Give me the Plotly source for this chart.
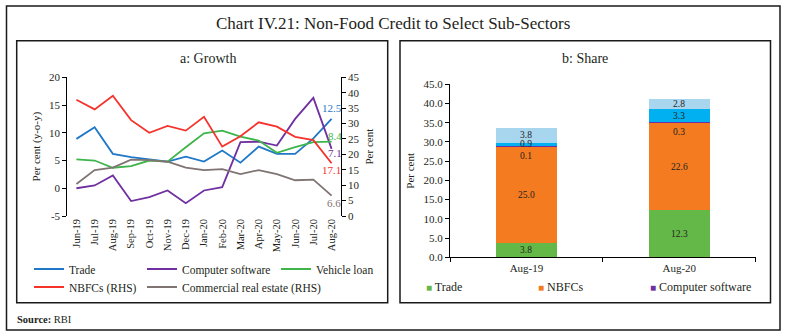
import plotly.graph_objects as go

# ---- data -------------------------------------------------------------
months = ["Jun-19", "Jul-19", "Aug-19", "Sep-19", "Oct-19", "Nov-19", "Dec-19",
          "Jan-20", "Feb-20", "Mar-20", "Apr-20", "May-20", "Jun-20", "Jul-20", "Aug-20"]
trade = [8.9, 11.0, 6.2, 5.6, 5.2, 4.8, 5.7, 4.8, 6.8, 4.6, 7.5, 6.2, 6.2, 9.0, 12.5]
software = [0.0, 0.5, 2.3, -2.3, -1.6, -0.4, -2.7, -0.4, 0.2, 8.3, 8.4, 7.7, 12.5, 16.3, 7.1]
vehicle = [5.2, 5.0, 3.7, 4.0, 5.0, 4.8, 7.4, 9.9, 10.4, 9.3, 8.6, 6.4, 7.4, 8.3, 8.4]
nbfc = [37.7, 34.6, 39.0, 31.1, 27.0, 29.2, 27.7, 32.2, 22.5, 25.9, 30.4, 29.0, 25.7, 24.6, 17.1]
cre = [10.4, 14.9, 15.7, 18.3, 18.1, 17.6, 15.7, 14.9, 15.2, 13.6, 14.9, 13.6, 11.6, 11.8, 6.6]
left_ticks = [-5, 0, 5, 10, 15, 20]
left_ticktext = ["-5", "0", "5", "10", "15", "20"]

share_dates = ["Aug-19", "Aug-20"]
share_trade = [3.8, 12.3]
share_nbfc = [25.0, 22.6]
share_software = [0.1, 0.3]
share_vehicle = [0.9, 3.3]
share_cre = [3.8, 2.8]

# ---- styling ----------------------------------------------------------
W, H = 787, 336
FONT = "Liberation Serif"
TXT = "#231f20"
C_TRADE, C_SOFT, C_VEH = "#1f78c8", "#7030a0", "#3db54a"
C_NBFC, C_CRE = "#f5332b", "#7f7471"
B_TRADE, B_NBFC, B_SOFT, B_VEH, B_CRE = "#63b847", "#f47b20", "#7030a0", "#00b0f0", "#a9d6ef"


def px_x(p):
    return p / W


def px_y(p):
    return 1 - p / H


fig = go.Figure()

# panel a: growth lines, each with its own legend slot (x, y of the slot in px)
line_specs = [
    ("Trade", trade, C_TRADE, "y", "legend", 29, 269),
    ("Computer software", software, C_SOFT, "y", "legend2", 142, 269),
    ("Vehicle loan", vehicle, C_VEH, "y", "legend3", 276, 269),
    ("NBFCs (RHS)", nbfc, C_NBFC, "y2", "legend4", 29, 287),
    ("Commercial real estate (RHS)", cre, C_CRE, "y2", "legend5", 142, 287),
]
legends = {}
for name, vals, col, yax, leg, lx, ly in line_specs:
    fig.add_trace(go.Scatter(x=months, y=vals, name=name, mode="lines",
                             line=dict(color=col, width=1.8),
                             xaxis="x", yaxis=yax, legend=leg))
    legends[leg] = dict(x=px_x(lx), y=px_y(ly), xanchor="left", yanchor="middle",
                        orientation="v", bgcolor="rgba(0,0,0,0)", itemwidth=30,
                        font=dict(family=FONT, size=11.5, color=TXT))

# end-of-line value labels
end_labels = [
    (trade, C_TRADE, "y", 0, 11),
    (vehicle, C_VEH, "y", 3, 6),
    (software, C_SOFT, "y", 3, -4),
    (nbfc, C_NBFC, "y2", 0, -7),
    (cre, C_CRE, "y2", 2, -7),
]
for vals, col, yax, xs, ys in end_labels:
    fig.add_annotation(x=months[-1], y=vals[-1], xref="x", yref=yax,
                       text=f"{vals[-1]:.1f}", showarrow=False,
                       xanchor="center", yanchor="middle",
                       xshift=xs, yshift=ys,
                       font=dict(family=FONT, size=11, color=col))

# panel b: stacked share bars
bar_specs = [
    ("Trade", share_trade, B_TRADE, 424),
    ("NBFCs", share_nbfc, B_NBFC, 536),
    ("Computer software", share_software, B_SOFT, 648),
    ("Vehicle loan", share_vehicle, B_VEH, None),
    ("Commercial real estate", share_cre, B_CRE, None),
]
for name, vals, col, key_x in bar_specs:
    fig.add_trace(go.Bar(x=share_dates, y=vals, name=name, marker_color=col,
                         marker_line_width=0, width=0.4, showlegend=False,
                         xaxis="x3", yaxis="y3"))
    if key_x is not None:
        # key entry: coloured square followed by the series name
        fig.add_annotation(x=px_x(key_x), y=px_y(287), xref="paper", yref="paper",
                           xanchor="left", yanchor="middle", showarrow=False,
                           text=f"<span style='color:{col}; font-size:10px'>■</span> {name}",
                           font=dict(family=FONT, size=12, color=TXT))

# segment labels
base = [0.0 for _ in share_dates]
for name, vals, col, key_x in bar_specs:
    for i, d in enumerate(share_dates):
        v = vals[i]
        if v < 0.5:
            yy, ys = base[i], -9
        else:
            yy, ys = base[i] + v / 2, 0
        fig.add_annotation(x=d, y=yy, xref="x3", yref="y3", text=f"{v:.1f}",
                           showarrow=False, yshift=ys, xanchor="center", yanchor="middle",
                           font=dict(family=FONT, size=9.5, color=TXT))
        base[i] += v

# ---- axes -------------------------------------------------------------
ya_dom = [px_y(216), px_y(77.3)]
xa_dom = [px_x(67.3), px_x(340.7)]
yb_dom = [px_y(257.3), px_y(84.3)]
xb_dom = [px_x(450), px_x(755.7)]

tickfont = dict(family=FONT, size=11, color=TXT)
axis_line = dict(showgrid=False, zeroline=False, linecolor="#000", linewidth=1,
                 tickcolor="#000", ticklen=4, tickwidth=1, automargin=False)
axis_common = dict(tickfont=tickfont, **axis_line)
title_font = dict(family=FONT, size=11, color=TXT)

fig.update_layout(
    xaxis=dict(domain=xa_dom, anchor="y", type="category", categoryarray=months,
               range=[-0.5, 14.5], showline=False, ticks="", tickangle=-90,
               showgrid=False, zeroline=False, automargin=False,
               tickfont=dict(family=FONT, size=10.5, color=TXT)),
    # zero-line axis carrying the boundary ticks
    xaxis2=dict(domain=xa_dom, overlaying="x", matches="x", anchor="free",
                position=ya_dom[0] + 0.2 * (ya_dom[1] - ya_dom[0]),
                type="category", categoryarray=months, range=[-0.5, 14.5],
                showticklabels=False, ticks="outside", tickson="boundaries",
                showline=True, **axis_line),
    yaxis=dict(domain=ya_dom, anchor="x", range=[-5, 20],
               tickvals=left_ticks, ticktext=left_ticktext,
               ticks="outside", showline=True,
               title=dict(text="Per cent (y-o-y)", standoff=6, font=title_font),
               **axis_common),
    yaxis2=dict(domain=ya_dom, anchor="x", overlaying="y", side="right",
                range=[0, 45], dtick=5, ticks="outside", showline=True,
                title=dict(text="Per cent", standoff=6, font=title_font),
                **axis_common),
    xaxis3=dict(domain=xb_dom, anchor="y3", type="category", categoryarray=share_dates,
                range=[-0.5, 1.5], ticks="outside", tickson="boundaries",
                showline=True, **axis_common),
    yaxis3=dict(domain=yb_dom, anchor="x3", range=[0, 45], dtick=5,
                tickformat=".1f", ticks="outside", showline=True,
                title=dict(text="Per cent", standoff=6, font=title_font),
                **axis_common),
    barmode="stack",
    **legends,
)

# ---- frames, titles, source ------------------------------------------
frame = dict(type="rect", xref="paper", yref="paper",
             line=dict(color="#1a1a1a", width=1.5), fillcolor="rgba(0,0,0,0)")
fig.add_shape(x0=px_x(6.5), x1=px_x(780), y0=px_y(330), y1=px_y(6), **frame)
fig.add_shape(x0=px_x(16.7), x1=px_x(387.7), y0=px_y(302.7), y1=px_y(40.7), **frame)
fig.add_shape(x0=px_x(400), x1=px_x(770.5), y0=px_y(302.7), y1=px_y(40.7), **frame)

heading = dict(xref="paper", yref="paper", showarrow=False,
               xanchor="center", yanchor="middle")
fig.add_annotation(x=px_x(393), y=px_y(24), text="Chart IV.21: Non-Food Credit to Select Sub-Sectors",
                   font=dict(family=FONT, size=17, color=TXT), **heading)
fig.add_annotation(x=px_x(208), y=px_y(58), text="a: Growth",
                   font=dict(family=FONT, size=14, color=TXT), **heading)
fig.add_annotation(x=px_x(585), y=px_y(58), text="b: Share",
                   font=dict(family=FONT, size=14, color=TXT), **heading)
fig.add_annotation(x=px_x(15), y=px_y(319), xref="paper", yref="paper",
                   xanchor="left", yanchor="middle", text="<b>Source:</b> RBI",
                   showarrow=False, font=dict(family=FONT, size=10.5, color=TXT))

fig.update_layout(width=W, height=H, margin=dict(l=0, r=0, t=0, b=0, autoexpand=False),
                  paper_bgcolor="white", plot_bgcolor="white",
                  font=dict(family=FONT, color=TXT))

fig.write_html("out.html")
